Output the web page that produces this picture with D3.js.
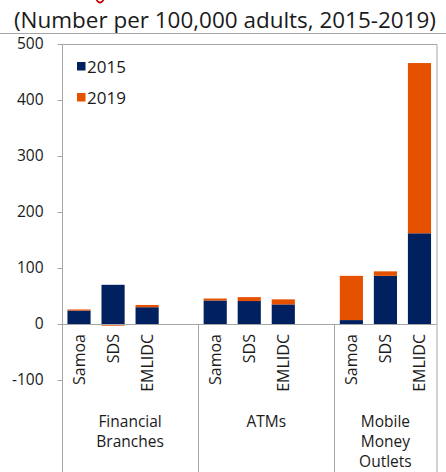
<!DOCTYPE html>
<html><head><meta charset="utf-8">
<script src="https://cdn.jsdelivr.net/npm/d3@7"></script>
<style>body{margin:0;background:#fff} svg{display:block} text{font-family:"Open Sans",sans-serif;fill:#1a1a1a}</style>
</head><body><svg id="c" width="446" height="472"></svg>
<script>
// ---- data ----
const groups = ["Financial Branches", "ATMs", "Mobile Money Outlets"];
const groupLines = [["Financial", "Branches"], ["ATMs"], ["Mobile", "Money", "Outlets"]];
const economies = ["Samoa", "SDS", "EMLIDC"];
const seriesNames = ["2015", "2019"];
// 2015 level and change to 2019 (stacked segment), order: group x economy
const values2015 = [24, 70, 30, 42, 41, 35, 7, 86, 162];
const values2019 = [2, -3, 4, 3.5, 7, 9, 79, 8, 304];
const yTicks = [-100, 0, 100, 200, 300, 400, 500];
const colors = ["#002060", "#E65100"];

// ---- build ----
const svg = d3.select("#c");
const slots = [];
groups.forEach((g, gi) => {
  economies.forEach((e, ei) => slots.push(gi + "|" + ei));
  if (gi < groups.length - 1) slots.push("gap" + gi);
});
const rows = [];
groups.forEach((g, gi) => economies.forEach((e, ei) => {
  const k = gi * economies.length + ei;
  rows.push({slot: gi + "|" + ei, eco: e, "2015": values2015[k], "2019": values2019[k]});
}));

const left = 62, right = 436.5;
const x = d3.scaleBand().domain(slots).range([left, right]).paddingInner(0.32).paddingOuter(0.16);
const y = d3.scaleLinear().domain([-100, 500]).range([380, 44]);
const step = x.step();

// remnant of the red heading cut off above the picture
svg.append("path").attr("d", "M96.5,0 Q100,5 103.5,0").attr("fill", "none")
  .attr("stroke", "#C00000").attr("stroke-width", 1.8);

// title
svg.append("text").attr("x", 14).attr("y", 28).style("font-size", "21.5px").style("fill", "#1a1a1a")
  .attr("textLength", 422).attr("lengthAdjust", "spacingAndGlyphs")
  .text("(Number per 100,000 adults, 2015-2019)");
svg.append("line").attr("x1", 0).attr("x2", 446).attr("y1", 33.5).attr("y2", 33.5)
  .attr("stroke", "#a6a6a6").attr("stroke-width", 1);

// plot border (top/right)
svg.append("path").attr("d", `M${left},${y(500)+0.5}H${right+0.5}V472`)
  .attr("fill", "none").attr("stroke", "#a6a6a6").attr("stroke-width", 1);

// bars
const stack = d3.stack().keys(seriesNames).offset(d3.stackOffsetDiverging);
const stacked = stack(rows);
svg.append("g").selectAll("g").data(stacked).join("g")
  .attr("fill", (d, i) => colors[i])
  .selectAll("rect").data(d => d).join("rect")
  .attr("x", d => x(d.data.slot))
  .attr("width", x.bandwidth())
  .attr("y", d => y(Math.max(d[0], d[1])))
  .attr("height", d => Math.abs(y(d[0]) - y(d[1])));

// y axis
const yAxis = d3.axisLeft(y).tickValues(yTicks).tickSize(5).tickPadding(14).tickFormat(d3.format("d"));
const ya = svg.append("g").attr("transform", `translate(${left + 0.5},0)`).call(yAxis);
ya.select(".domain").remove();
ya.selectAll("line").attr("stroke", "#a6a6a6");
ya.selectAll("text").style("font-size", "15.5px").style("font-family", '"Open Sans",sans-serif').attr("fill", "#1a1a1a")
  .text(d => d < 0 ? "-" + Math.abs(d) : d);
svg.append("line").attr("x1", left + 0.5).attr("x2", left + 0.5).attr("y1", y(500)).attr("y2", 472)
  .attr("stroke", "#a6a6a6");

// zero axis
svg.append("line").attr("x1", left).attr("x2", right).attr("y1", y(0) + 0.5).attr("y2", y(0) + 0.5)
  .attr("stroke", "#a6a6a6");

// group separators
groups.forEach((g, gi) => {
  if (gi === 0) return;
  const sx = Math.round(left + gi * 4 * step) + 0.5;
  svg.append("line").attr("x1", sx).attr("x2", sx).attr("y1", y(0)).attr("y2", 472).attr("stroke", "#a6a6a6");
});

// category labels
svg.append("g").selectAll("text").data(rows).join("text")
  .attr("transform", d => `translate(${x(d.slot) + x.bandwidth() / 2},334) rotate(-90)`)
  .attr("dy", "0.35em").attr("text-anchor", "end").style("font-size", "16px").text(d => d.eco);

// group labels
groups.forEach((g, gi) => {
  const start = left + gi * 4 * step;
  const end = gi === groups.length - 1 ? right : left + (gi * 4 + 4) * step;
  const cx = (start + end) / 2;
  const t = svg.append("text").attr("text-anchor", "middle").style("font-size", "15.5px");
  groupLines[gi].forEach((ln, li) => t.append("tspan").attr("x", cx).attr("y", 427 + li * 20).text(ln));
});

// legend
seriesNames.forEach((s, i) => {
  const ly = 62 + i * 31;
  svg.append("rect").attr("x", 77).attr("y", ly).attr("width", 8.5).attr("height", 8.5).attr("fill", colors[i]);
  svg.append("text").attr("x", 87).attr("y", ly + 10.5).style("font-size", "17px").text(s);
});
</script></body></html>
